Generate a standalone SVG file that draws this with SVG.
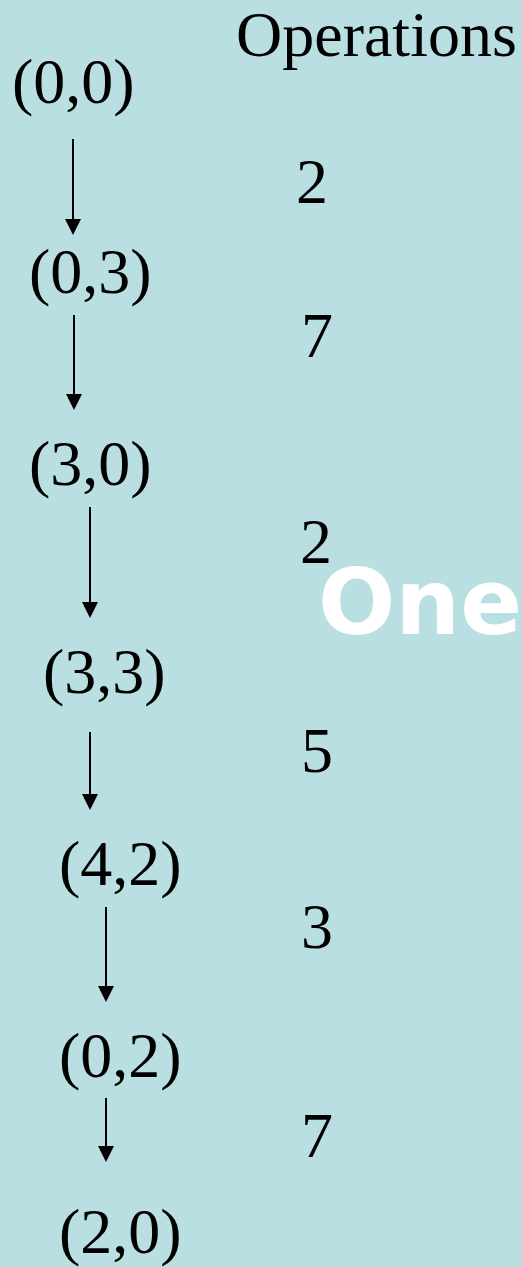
<svg xmlns="http://www.w3.org/2000/svg" width="522" height="1267" viewBox="0 0 522 1267">
<style>
.t{font-family:"Liberation Serif","Times New Roman",serif;font-size:64px;fill:#000}
.c{stroke:#000;stroke-width:2;fill:none}
.one{font-family:"DejaVu Sans",Verdana,sans-serif;font-weight:bold;font-size:91px;fill:#fff}
</style>
<defs>
<marker id="ah" viewBox="0 0 16 16" refX="6" refY="8" markerWidth="16" markerHeight="16" markerUnits="userSpaceOnUse" orient="auto">
<path d="M0,0 L16,8 L0,16 z" fill="#000"/>
</marker>
</defs>
<rect x="0" y="0" width="522" height="1267" fill="#BADFE3"/>
<text class="t" x="236" y="56">Operations</text>
<g id="n00"><text class="t" x="12" y="103">(0,0)</text></g>
<g id="n03"><text class="t" x="29" y="293">(0,3)</text></g>
<g id="n30"><text class="t" x="29" y="485">(3,0)</text></g>
<g id="n33"><text class="t" x="43" y="693">(3,3)</text></g>
<g id="n42"><text class="t" x="59" y="885">(4,2)</text></g>
<g id="n02"><text class="t" x="59" y="1077">(0,2)</text></g>
<g id="n20"><text class="t" x="59" y="1253">(2,0)</text></g>
<g id="ops">
<text class="t" x="296" y="203">2</text>
<text class="t" x="301" y="357">7</text>
<text class="t" x="300" y="563">2</text>
<text class="t" x="301" y="772">5</text>
<text class="t" x="301" y="948">3</text>
<text class="t" x="301" y="1157">7</text>
</g>
<text class="one" x="318" y="634">One</text>
<g id="connectors">
<line class="c" x1="73" y1="139" x2="73" y2="225" marker-end="url(#ah)"/>
<line class="c" x1="74" y1="315" x2="74" y2="400" marker-end="url(#ah)"/>
<line class="c" x1="90" y1="507" x2="90" y2="608" marker-end="url(#ah)"/>
<line class="c" x1="90" y1="732" x2="90" y2="800" marker-end="url(#ah)"/>
<line class="c" x1="106" y1="907" x2="106" y2="992" marker-end="url(#ah)"/>
<line class="c" x1="106" y1="1098" x2="106" y2="1152" marker-end="url(#ah)"/>
</g>
</svg>
